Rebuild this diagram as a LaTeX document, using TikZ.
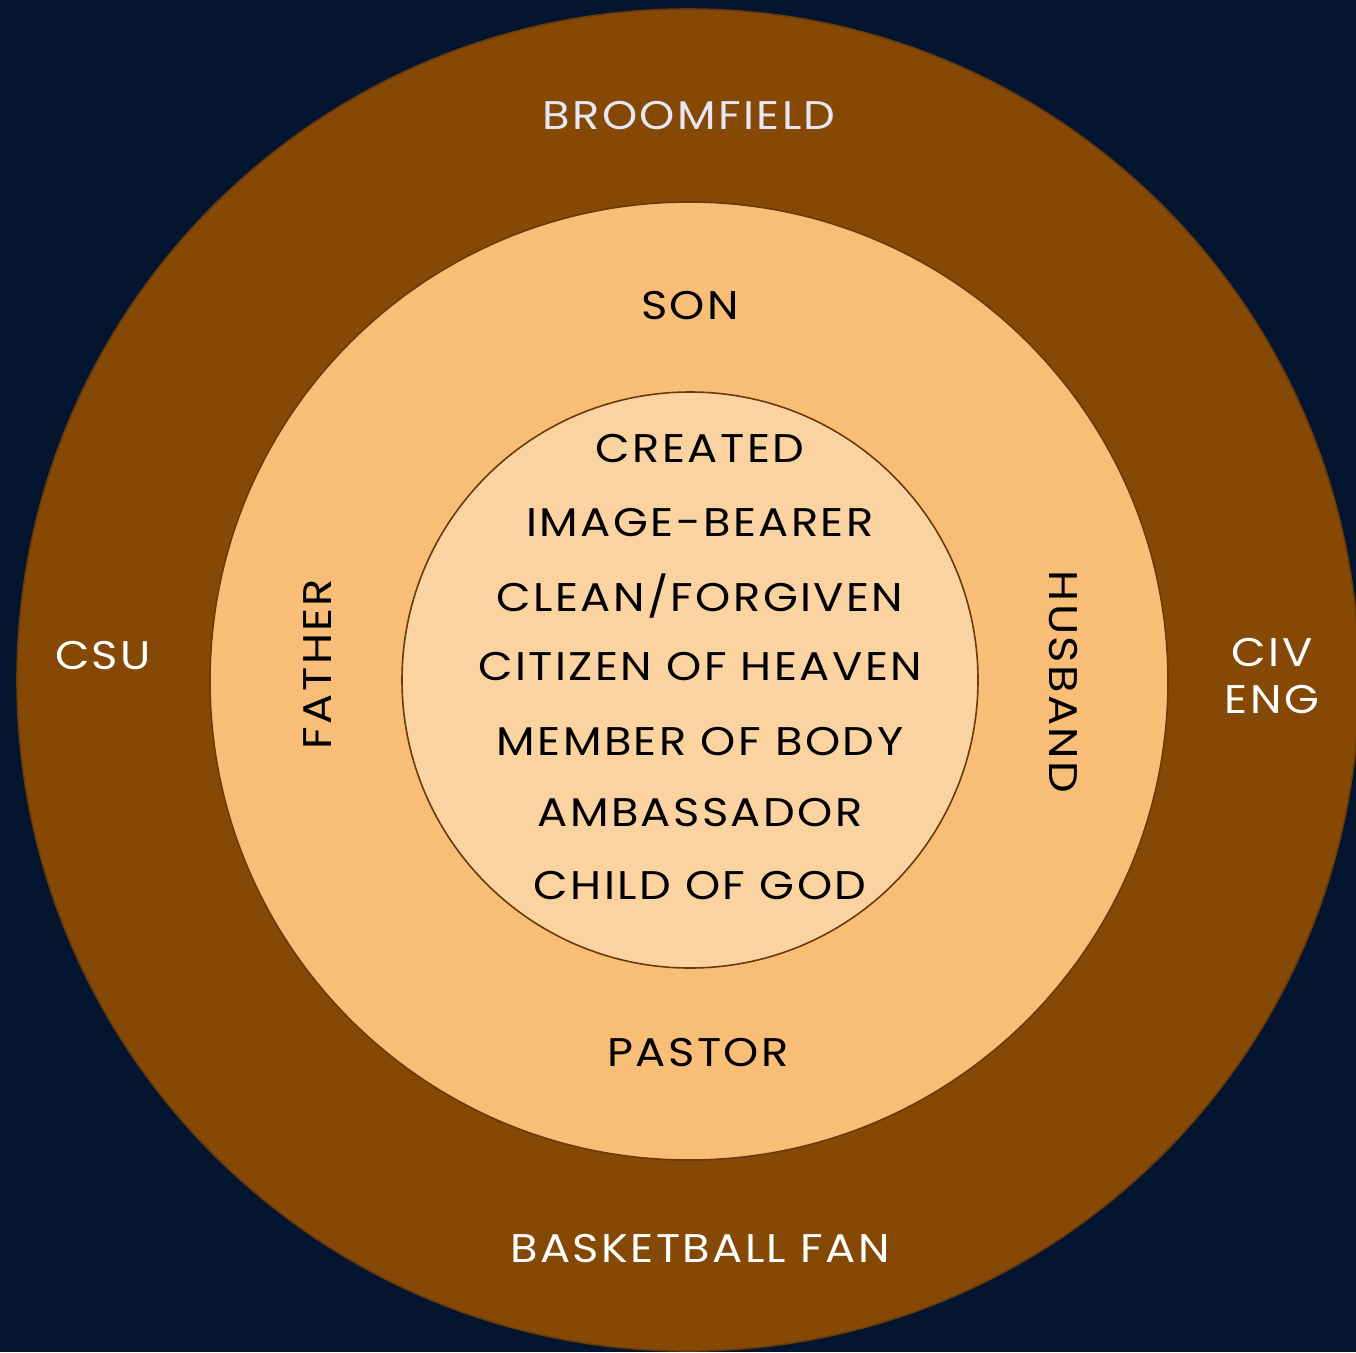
\documentclass[tikz,border=0pt]{standalone}
\usepackage{fontspec}
\setmainfont{Poppins}[FakeStretch=1.12,LetterSpace=6]
\definecolor{navy}{HTML}{03152F}
\definecolor{ringbrown}{HTML}{864905}
\definecolor{midorange}{HTML}{F8BE78}
\definecolor{innerpeach}{HTML}{FBD3A1}
\definecolor{edge}{HTML}{6A3A08}
\definecolor{lav}{HTML}{E6E6F5}
\begin{document}
\begin{tikzpicture}[x=1pt,y=-1pt,
  ring/.style={draw=edge,line width=1.6pt},
  wtxt/.style={text=white,font=\fontsize{40}{40}\selectfont,inner sep=0pt,anchor=center},
  btxt/.style={text=black,font=\fontsize{40}{40}\selectfont,inner sep=0pt,anchor=center}]
\fill[navy] (0,0) rectangle (1356,1352);
\useasboundingbox (0,0) rectangle (1356,1352);
\node[ring,fill=ringbrown,circle,minimum size=1342pt,inner sep=0pt] (outer) at (688,680) {};
\node[ring,fill=midorange,circle,minimum size=958pt,inner sep=0pt] (mid) at (689,681) {};
\node[ring,fill=innerpeach,circle,minimum size=576pt,inner sep=0pt] (inner) at (690,680) {};
\node[wtxt,text=lav] (broom) at (689,116) {BROOMFIELD};
\node[wtxt] (csu) at (103,656) {CSU};
\node[wtxt] (civ) at (1272,652) {CIV};
\node[wtxt] (eng) at (1272,700) {ENG};
\node[wtxt] (bball) at (700,1248) {BASKETBALL FAN};
\node[btxt] (son) at (690,306) {SON};
\node[btxt,rotate=90] (father) at (318,664) {FATHER};
\node[btxt,rotate=-90] (husband) at (1063,682) {HUSBAND};
\node[btxt] (pastor) at (698,1053) {PASTOR};
\node[btxt] (l1) at (700,448) {CREATED};
\node[btxt] (l2) at (700,523) {IMAGE-BEARER};
\node[btxt] (l3) at (700,596) {CLEAN/FORGIVEN};
\node[btxt] (l4) at (700,667) {CITIZEN OF HEAVEN};
\node[btxt] (l5) at (700,742) {MEMBER OF BODY};
\node[btxt] (l6) at (700,813) {AMBASSADOR};
\node[btxt] (l7) at (700,886) {CHILD OF GOD};
\end{tikzpicture}
\end{document}
